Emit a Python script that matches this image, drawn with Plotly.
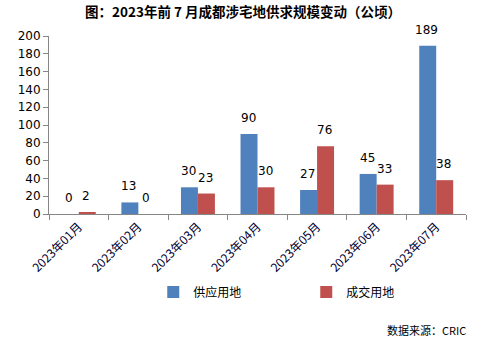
import plotly.graph_objects as go

categories = ["2023年01月", "2023年02月", "2023年03月", "2023年04月", "2023年05月", "2023年06月", "2023年07月"]
supply = [0, 13, 30, 90, 27, 45, 189]
deal = [2, 0, 23, 30, 76, 33, 38]
series_names = ["供应用地", "成交用地"]
colors = ["#4F81BD", "#C0504D"]
title = "图：2023年前 7 月成都涉宅地供求规模变动（公顷）"
source = "数据来源：CRIC"

FONT = "Noto Sans CJK SC, Microsoft YaHei, sans-serif"

fig = go.Figure()
for name, vals, col in zip(series_names, [supply, deal], colors):
    fig.add_trace(go.Bar(x=categories, y=vals, name=name, marker=dict(color=col, line=dict(width=0))))

annotations = []
for vals, shift in [(supply, -8.5), (deal, 8.5)]:
    for c, v in zip(categories, vals):
        annotations.append(dict(x=c, y=v, xref="x", yref="y", text=str(v), showarrow=False,
                                xshift=shift - 1, yshift=7, yanchor="bottom",
                                font=dict(size=12, color="#000000", family="DejaVu Sans, Verdana, sans-serif")))
annotations.append(dict(x=1.005, y=-0.652, xref="paper", yref="paper", xanchor="right", yanchor="middle",
                        text=source, showarrow=False,
                        font=dict(size=11, color="#000000", family=FONT)))

fig.update_layout(
    width=486, height=346,
    margin=dict(l=49, r=20, t=36, b=132),
    paper_bgcolor="white", plot_bgcolor="white",
    title=dict(text="<b>" + title + "</b>", x=0.5, xanchor="center", y=0.965, yanchor="middle",
               font=dict(size=13.5, color="#000000", family=FONT)),
    barmode="group", bargap=0.43, bargroupgap=0,
    showlegend=True,
    legend=dict(orientation="h", x=0.25, xanchor="left", y=-0.438, yanchor="middle",
                font=dict(size=12, color="#000000", family=FONT),
                entrywidth=108, itemwidth=30, bgcolor="rgba(0,0,0,0)"),
    annotations=annotations,
)
fig.update_xaxes(showline=True, linecolor="#868686", linewidth=1, ticks="outside", tickson="boundaries",
                 ticklen=5, tickcolor="#868686", tickangle=-45,
                 tickfont=dict(size=12, color="#000033", family=FONT), showgrid=False)
fig.update_yaxes(range=[0, 200], dtick=20, showline=True, linecolor="#868686", linewidth=1,
                 ticks="outside", ticklen=5, tickcolor="#868686", showgrid=False, zeroline=False,
                 tickfont=dict(size=12, color="#000000", family="DejaVu Sans, Verdana, sans-serif"))

fig.write_html("out.html")
